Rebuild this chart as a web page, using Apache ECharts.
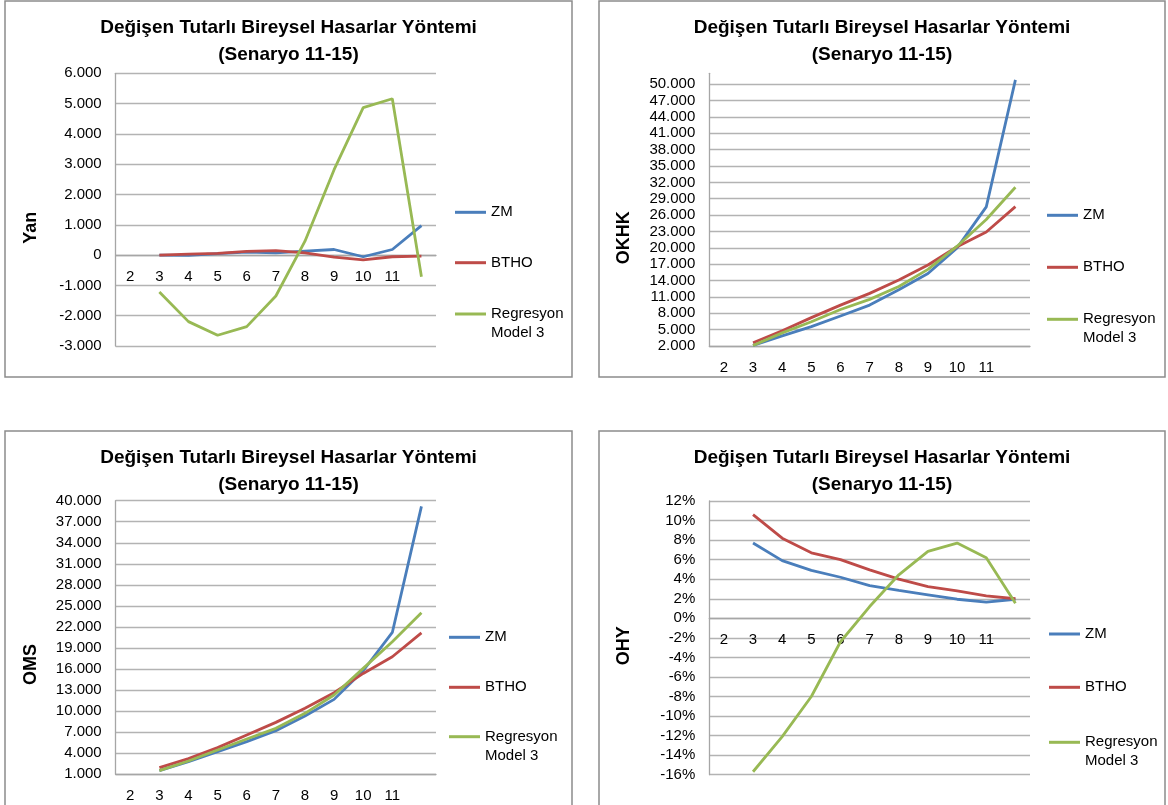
<!DOCTYPE html>
<html>
<head>
<meta charset="utf-8">
<script src="https://cdn.jsdelivr.net/npm/echarts@6/dist/echarts.min.js"></script>
<style>
  html, body { margin: 0; padding: 0; background: #ffffff; }
  #chart { width: 1168px; height: 805px; }
</style>
</head>
<body>
<div id="chart"></div>
<script>
// Category labels along the x axis (the last slot carries no label)
const categories = ['2', '3', '4', '5', '6', '7', '8', '9', '10', '11', ''];

// Series values, starting at category '3'
const yanZM   = [0, -10, 50, 100, 75, 130, 185, -55, 185, 975];
const yanBTHO = [0, 30, 55, 120, 150, 75, -65, -155, -55, -35];
const yanReg  = [-1220, -2195, -2645, -2360, -1350, 460, 2820, 4870, 5160, -715];

const okhkZM   = [2100, 3850, 5550, 7500, 9500, 12300, 15300, 20000, 27500, 50800];
const okhkBTHO = [2600, 4800, 7200, 9500, 11650, 14100, 16850, 20200, 22900, 27550];
const okhkReg  = [2100, 4400, 6450, 8700, 10550, 12900, 16050, 20300, 25200, 31100];

const omsZM   = [1520, 2800, 4230, 5650, 7220, 9300, 11680, 15760, 21220, 39200];
const omsBTHO = [1950, 3230, 4800, 6600, 8400, 10400, 12630, 15380, 17760, 21170];
const omsReg  = [1520, 2900, 4470, 6030, 7550, 9690, 12300, 16100, 19900, 24020];

// OHY in percent
const ohyZM   = [7.7, 5.9, 4.9, 4.2, 3.35, 2.85, 2.4, 1.95, 1.65, 1.95];
const ohyBTHO = [10.6, 8.2, 6.7, 6.0, 4.95, 4.0, 3.25, 2.8, 2.3, 2.0];
const ohyReg  = [-15.7, -12.1, -8.0, -2.4, 1.2, 4.45, 6.85, 7.7, 6.2, 1.55];

const seriesNames = ['ZM', 'BTHO', 'Regresyon Model 3'];
const seriesColors = ['#4a7ebb', '#be4b48', '#98b954'];

const titleText = 'Değişen Tutarlı Bireysel Hasarlar Yöntemi\n(Senaryo 11-15)';
const FONT = '"Liberation Sans", Arial, sans-serif';

function thousands(v) {
  const s = Math.abs(Math.round(v)).toString().replace(/\B(?=(\d{3})+(?!\d))/g, '.');
  return (v < 0 ? '-' : '') + s;
}
function percent(v) {
  return Math.round(v) + '%';
}

// Panel layout: frame, plot area, axis scale and where the axis title / legend sit
const panels = [
  { axisName: 'Yan',  values: [yanZM, yanBTHO, yanReg],    min: -3000, max: 6000,  interval: 1000, fmt: thousands,
    frame: [5, 1, 567, 376],   grid: [115.7, 73.3, 320.3, 272.7], namePad: 36, legendX: 455, legendY: [212.3, 262.7, 314] },
  { axisName: 'OKHK', values: [okhkZM, okhkBTHO, okhkReg], min: 2000,  max: 52000, interval: 3000, fmt: thousands,
    frame: [599, 1, 566, 376], grid: [709.3, 73.3, 320.7, 272.7], namePad: 56, legendX: 1047, legendY: [215.3, 267.3, 319.3] },
  { axisName: 'OMS',  values: [omsZM, omsBTHO, omsReg],    min: 1000,  max: 40000, interval: 3000, fmt: thousands,
    frame: [5, 431, 567, 380], grid: [115.7, 500.7, 320.3, 273.6], namePad: 54, legendX: 449, legendY: [637.3, 687.3, 736.7] },
  { axisName: 'OHY',  values: [ohyZM, ohyBTHO, ohyReg],    min: -16,   max: 12,    interval: 2,    fmt: percent,
    frame: [599, 431, 566, 380], grid: [709.3, 501, 320.7, 273.7], namePad: 16, legendX: 1049, legendY: [634, 687.3, 742.3] }
];

const option = {
  animation: false,
  backgroundColor: '#ffffff',
  textStyle: { fontFamily: FONT },
  title: [], grid: [], xAxis: [], yAxis: [], series: [], legend: [], graphic: []
};

panels.forEach((p, i) => {
  const [fx, fy, fw, fh] = p.frame;
  const [gl, gt, gw, gh] = p.grid;

  option.graphic.push({
    type: 'rect', silent: true, z: -1,
    shape: { x: fx, y: fy, width: fw, height: fh },
    style: { fill: 'none', stroke: '#8c8c8c', lineWidth: 1.5 }
  });

  option.title.push({
    text: titleText,
    left: fx + fw / 2, top: fy + 13,
    textAlign: 'center', padding: 0,
    textStyle: { fontFamily: FONT, fontSize: 19, fontWeight: 'bold', color: '#000', lineHeight: 27 }
  });

  option.grid.push({ left: gl, top: gt, width: gw, height: gh, containLabel: false, outerBoundsMode: 'none' });

  // The category axis crosses the value axis at zero when zero lies inside the range
  const crossesZero = p.min < 0 && p.max > 0;
  const zeroShift = crossesZero ? -gh * (0 - p.min) / (p.max - p.min) : 0;

  option.xAxis.push({
    type: 'category', gridIndex: i, data: categories, boundaryGap: true,
    offset: zeroShift,
    axisLine: { show: true, onZero: false, lineStyle: { color: '#a6a6a6', width: 1.3 } },
    axisTick: { show: false },
    axisLabel: { interval: 0, margin: 14, fontFamily: FONT, fontSize: 15, color: '#000' },
    splitLine: { show: false }
  });

  option.yAxis.push({
    type: 'value', gridIndex: i, min: p.min, max: p.max, interval: p.interval,
    name: p.axisName, nameLocation: 'middle', nameRotate: 90, nameGap: 76, nameMoveOverlap: false,
    nameTextStyle: { fontFamily: FONT, fontSize: 18, fontWeight: 'bold', color: '#000', padding: [0, p.namePad, 0, 0] },
    axisLine: { show: true, onZero: false, lineStyle: { color: '#a6a6a6', width: 1.3 } },
    axisTick: { show: false },
    axisLabel: { formatter: p.fmt, margin: 14, fontFamily: FONT, fontSize: 15, color: '#000', showMaxLabel: i !== 1 },
    splitLine: { show: true, showMaxLine: i !== 1, lineStyle: { color: '#b3b3b3', width: 1.3 } }
  });

  p.values.forEach((vals, k) => {
    option.series.push({
      type: 'line', name: seriesNames[k], xAxisIndex: i, yAxisIndex: i,
      data: [null].concat(vals),
      symbol: 'none', smooth: false, connectNulls: false,
      lineStyle: { color: seriesColors[k], width: 2.8 },
      itemStyle: { color: seriesColors[k] },
      emphasis: { disabled: true }
    });

    // The two-line entry keeps its swatch level with the first line of text
    const twoLine = k === 2;
    option.legend.push({
      data: [seriesNames[k]], orient: 'vertical', selectedMode: false,
      left: p.legendX, top: twoLine ? p.legendY[k] - 28.5 : p.legendY[k] - 9,
      padding: 0, icon: 'rect', itemWidth: 31, itemHeight: 3,
      formatter: name => name.indexOf(' Model') >= 0 ? '\n' + name.replace(' Model', '\nModel') : name,
      textStyle: { fontFamily: FONT, fontSize: 15, color: '#000', lineHeight: twoLine ? 19 : 18 }
    });
  });
});

const chart = echarts.init(document.getElementById('chart'), null, { renderer: 'canvas' });
chart.setOption(option);
</script>
</body>
</html>
